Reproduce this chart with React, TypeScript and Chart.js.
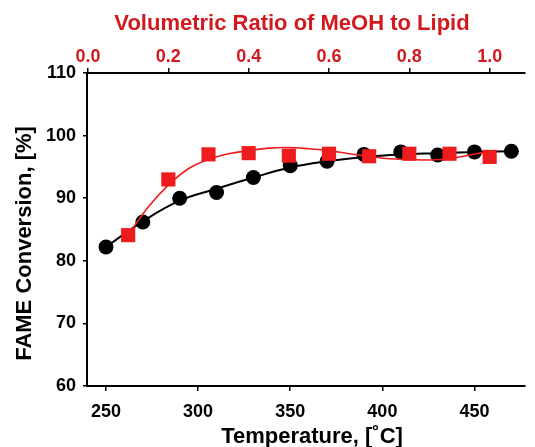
import React, { useEffect, useRef } from 'react';
import { Chart, registerables } from 'chart.js';

Chart.register(...registerables);

// Temperature series (black circles)
const temperatureC = [250, 270, 290, 310, 330, 350, 370, 390, 410, 430, 450, 470];
const conversionByTemp = [82.2, 86.2, 90.0, 90.9, 93.3, 95.2, 95.9, 97.0, 97.4, 96.9, 97.4, 97.5];

// Black fitted curve
const tempFitX = [250, 270, 290, 310, 330, 350, 370, 390, 410, 430, 450, 470];
const tempFitY = [82.2, 86.3, 89.6, 91.5, 93.3, 94.9, 95.9, 96.6, 97.0, 97.2, 97.4, 97.5];

// Volumetric ratio series (red squares)
const ratioMeOH = [0.1, 0.2, 0.3, 0.4, 0.5, 0.6, 0.7, 0.8, 0.9, 1.0];
const conversionByRatio = [84.1, 93.0, 97.0, 97.2, 96.8, 97.1, 96.7, 97.1, 97.1, 96.6];

// Red fitted curve
const ratioFitX = [0.1, 0.15, 0.2, 0.25, 0.3, 0.35, 0.4, 0.45, 0.5, 0.55, 0.6, 0.65, 0.7, 0.75, 0.8, 0.85, 0.9, 0.95, 1.0];
const ratioFitY = [84.1, 88.6, 92.1, 94.7, 96.2, 97.1, 97.6, 98.0, 98.1, 97.9, 97.6, 97.1, 96.7, 96.3, 96.2, 96.1, 96.3, 96.9, 97.5];

// Axis ticks
const tempTicks = [250, 300, 350, 400, 450];
const ratioTicks = [0.0, 0.2, 0.4, 0.6, 0.8, 1.0];
const conversionTicks = [60, 70, 80, 90, 100, 110];

const X_TITLE = 'Temperature, [\u02DAC]';
const X2_TITLE = 'Volumetric Ratio of MeOH to Lipid';
const Y_TITLE = 'FAME Conversion, [%]';

const FONT_FAMILY = '"Liberation Sans", Arial, Helvetica, sans-serif';
const RED = '#ee1c1c';
const RED_TEXT = '#d2191e';

const titlesPlugin = {
  id: 'customTitles',
  afterDraw(chart: any) {
    const { ctx, chartArea } = chart;
    const cx = (chartArea.left + chartArea.right) / 2;
    const cy = (chartArea.top + chartArea.bottom) / 2;
    ctx.save();
    ctx.font = `bold 22px ${FONT_FAMILY}`;
    ctx.textAlign = 'center';
    ctx.textBaseline = 'middle';
    ctx.fillStyle = '#000';
    ctx.fillText(X_TITLE, cx + 6, chartArea.bottom + 51);
    ctx.fillStyle = RED_TEXT;
    ctx.fillText(X2_TITLE, cx - 14, chartArea.top - 49);
    ctx.fillStyle = '#000';
    ctx.translate(chartArea.left - 62, cy + 14);
    ctx.rotate(-Math.PI / 2);
    ctx.fillText(Y_TITLE, 0, 0);
    ctx.restore();
  },
};

export default function App() {
  const canvasRef = useRef<HTMLCanvasElement | null>(null);

  useEffect(() => {
    if (!canvasRef.current) return;
    const tickFont = { family: FONT_FAMILY, size: 18, weight: 'bold' as const };
    const chart = new Chart(canvasRef.current, {
      type: 'scatter',
      data: {
        datasets: [
          {
            label: 'Ratio',
            data: ratioMeOH.map((x, i) => ({ x, y: conversionByRatio[i] })),
            xAxisID: 'x2',
            yAxisID: 'y',
            pointStyle: 'rect',
            pointRadius: 10,
            pointBackgroundColor: RED,
            pointBorderColor: RED,
            pointBorderWidth: 0,
            showLine: false,
            order: 0,
          },
          {
            label: 'Ratio fit',
            data: ratioFitX.map((x, i) => ({ x, y: ratioFitY[i] })),
            xAxisID: 'x2',
            yAxisID: 'y',
            showLine: true,
            pointRadius: 0,
            borderColor: RED,
            borderWidth: 1.6,
            tension: 0.4,
            order: 1,
          },
          {
            label: 'Temperature',
            data: temperatureC.map((x, i) => ({ x, y: conversionByTemp[i] })),
            xAxisID: 'x',
            yAxisID: 'y',
            showLine: false,
            pointStyle: 'circle',
            pointRadius: 7.5,
            pointBackgroundColor: '#000',
            pointBorderColor: '#000',
            pointBorderWidth: 0,
            order: 2,
          },
          {
            label: 'Temperature fit',
            data: tempFitX.map((x, i) => ({ x, y: tempFitY[i] })),
            xAxisID: 'x',
            yAxisID: 'y',
            showLine: true,
            tension: 0.4,
            pointRadius: 0,
            borderColor: '#000',
            borderWidth: 2,
            order: 3,
          },
        ],
      },
      options: {
        responsive: false,
        animation: false,
        layout: { padding: { left: 0, right: 2, top: 0, bottom: 0 } },
        plugins: { legend: { display: false }, tooltip: { enabled: false } },
        scales: {
          x: {
            type: 'linear',
            position: 'bottom',
            min: 239.7,
            max: 477.4,
            afterBuildTicks: (s: any) => {
              s.ticks = tempTicks.map((v) => ({ value: v }));
            },
            afterFit: (s: any) => {
              s.height = 61;
            },
            grid: { drawOnChartArea: false, drawTicks: true, tickLength: 5, color: '#000', lineWidth: 1.5 },
            border: { display: true, color: '#000', width: 2 },
            ticks: { color: '#000', font: tickFont, padding: 10, maxRotation: 0 },
            title: { display: false },
          },
          x2: {
            type: 'linear',
            position: 'top',
            min: -0.0025,
            max: 1.088,
            afterBuildTicks: (s: any) => {
              s.ticks = ratioTicks.map((v) => ({ value: v }));
            },
            afterFit: (s: any) => {
              s.height = 73;
            },
            grid: { drawOnChartArea: false, drawTicks: true, tickLength: 5, color: '#000', lineWidth: 1.5 },
            border: { display: true, color: '#000', width: 2 },
            ticks: {
              color: RED_TEXT,
              font: tickFont,
              padding: 0,
              maxRotation: 0,
              callback: (v: any) => Number(v).toFixed(1),
            },
            title: { display: false },
          },
          y: {
            type: 'linear',
            position: 'left',
            min: 60,
            max: 110,
            afterBuildTicks: (s: any) => {
              s.ticks = conversionTicks.map((v) => ({ value: v }));
            },
            afterFit: (s: any) => {
              s.width = 87;
            },
            grid: { drawOnChartArea: false, drawTicks: true, tickLength: 4, color: '#000', lineWidth: 1.5 },
            border: { display: true, color: '#000', width: 2 },
            ticks: { color: '#000', font: tickFont, padding: 7 },
            title: { display: false },
          },
        },
      },
      plugins: [titlesPlugin],
    });
    return () => chart.destroy();
  }, []);

  return (
    <div style={{ position: 'absolute', left: 0, top: 0, width: 535, height: 447, background: '#fff' }}>
      <canvas ref={canvasRef} width={535} height={447} style={{ display: 'block' }} />
    </div>
  );
}
